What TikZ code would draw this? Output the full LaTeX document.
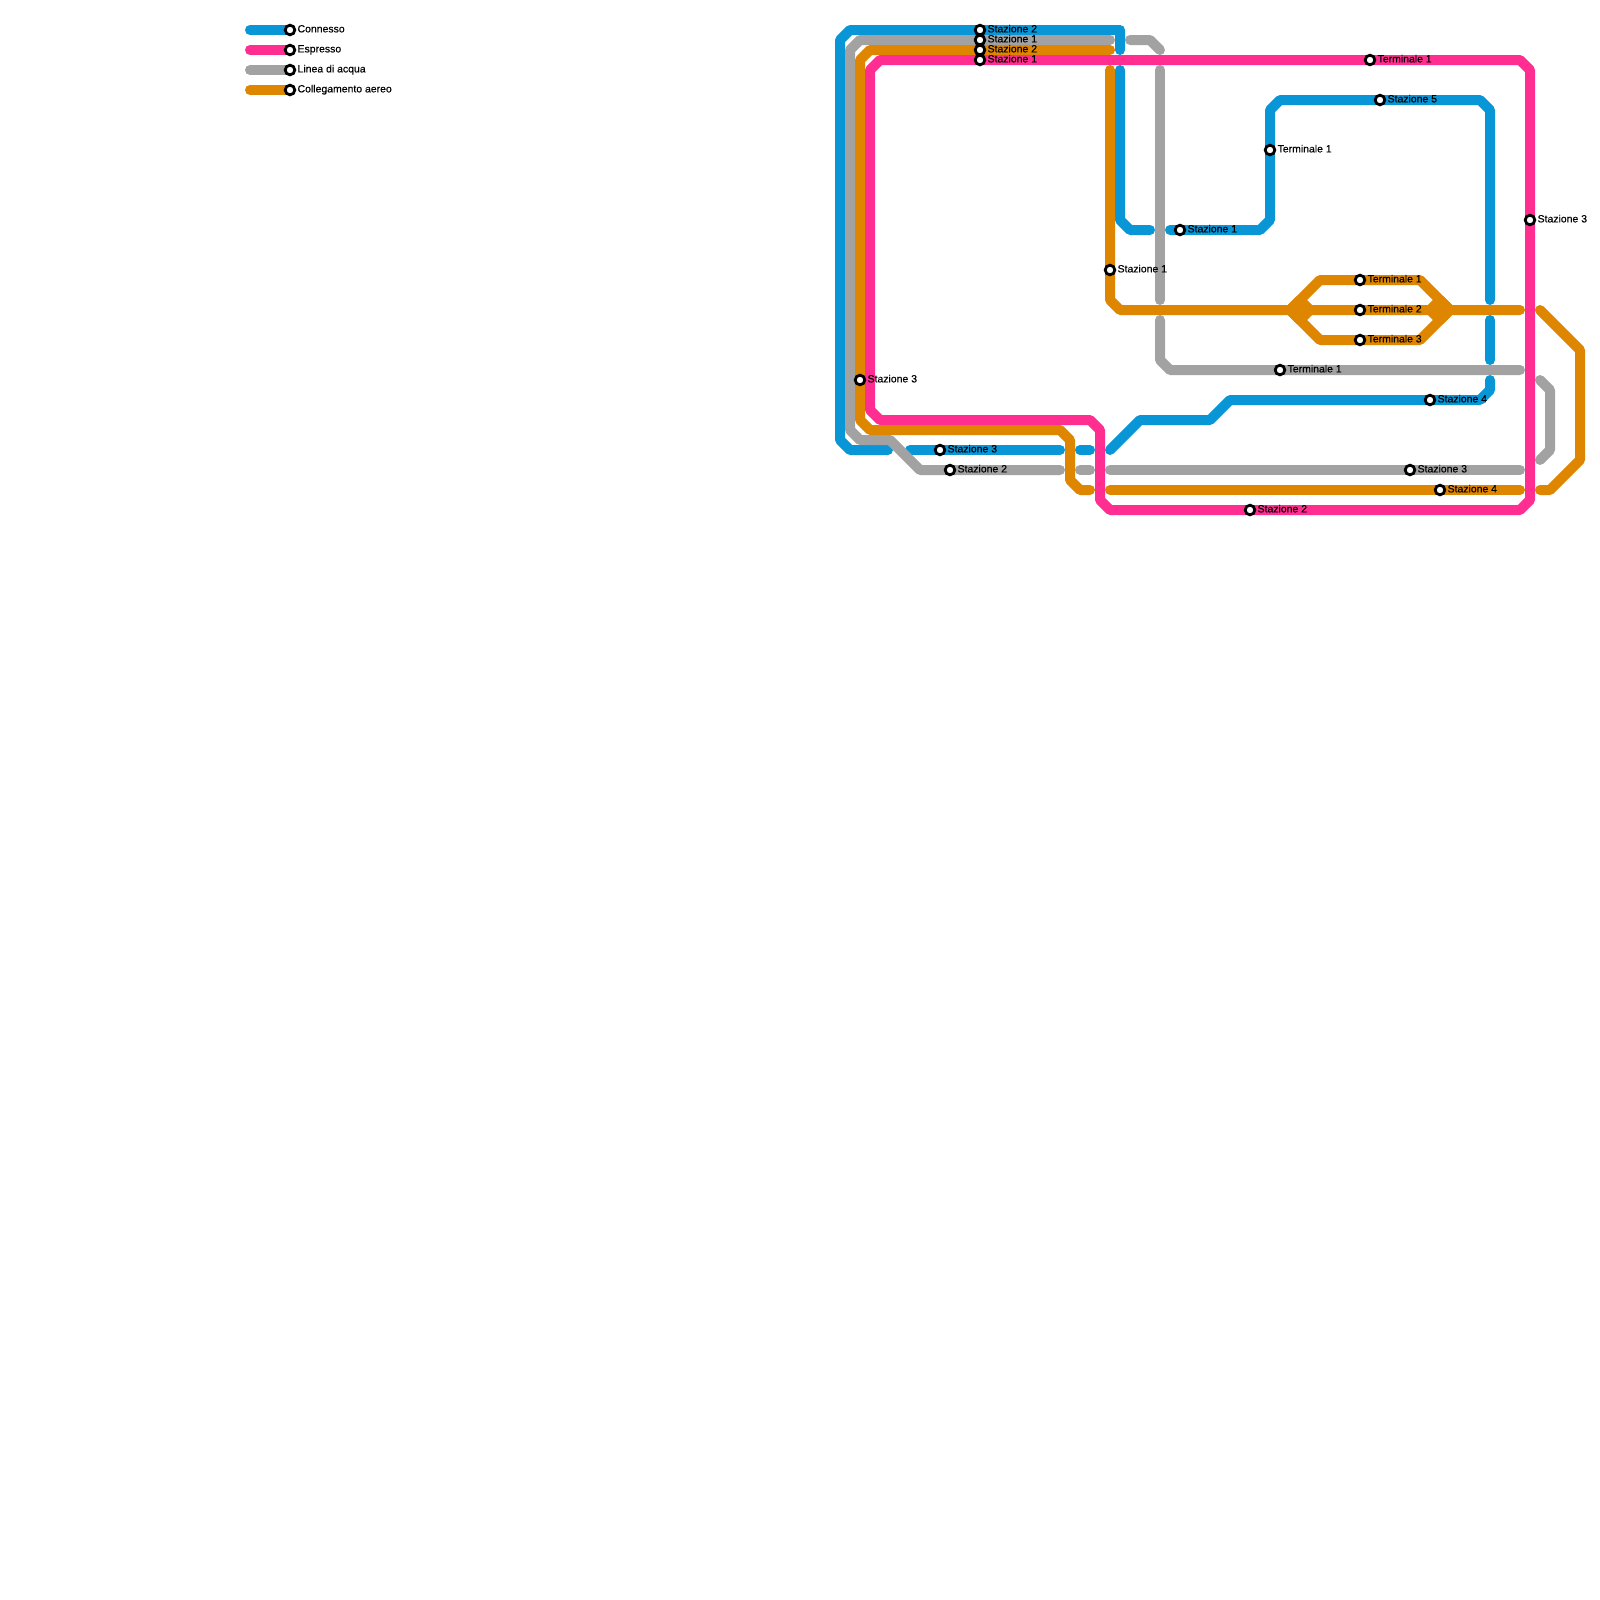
\documentclass[tikz,border=0pt]{standalone}
\usepackage{fontspec}
\newfontfamily\stopfont{Liberation Sans}[RawFeature={embolden=0.35}]
\definecolor{connessoblue}{HTML}{0896D7}
\definecolor{espressopink}{HTML}{FF2E90}
\definecolor{acquagray}{HTML}{A2A2A2}
\definecolor{aereoorange}{HTML}{DF8600}
\tikzset{
  route/.style={line width=10bp,line cap=round,line join=round},
  connesso/.style={route,draw=connessoblue},
  espresso/.style={route,draw=espressopink},
  acqua/.style={route,draw=acquagray},
  aereo/.style={route,draw=aereoorange},
  stop/.style={circle,draw=black,fill=white,line width=2.8bp,minimum size=9.6bp,inner sep=0pt},
  stoplabel/.style={text=black,font=\stopfont\fontsize{10.5}{12}\selectfont,anchor=base west,inner sep=0pt}
}
\begin{document}
\begin{tikzpicture}[x=10bp,y=-10bp]
  \path[use as bounding box] (0,0) rectangle (160,160);

  % Bend points, in steps of the map grid.
  \foreach \n/\x/\y in {
    b1/112/5,b2/112/3,b3/85/3,b4/84/4,b5/84/44,b6/85/45,b7/88.8/45,
    b8/91/45,b9/106/45,b10/108/45,b11/109/45,
    b12/111/45,b13/114/42,b14/121/42,b15/123/40,b16/148/40,b17/149/39,b18/149/38,
    b19/149/36,b20/149/32,
    b21/149/30,b22/149/11,b23/148/10,b24/128/10,b25/127/11,b26/127/22,b27/126/23,b28/117/23,
    b29/112/7,b30/112/22,b31/113/23,b32/115/23,
    b33/25/3,b34/29/3}
    \coordinate (\n) at (\x,\y);
  \foreach \n/\x/\y in {
    p1/87/7,p2/88/6,p3/152/6,p4/153/7,p5/153/50,p6/152/51,p7/111/51,p8/110/50,
    p9/110/43,p10/109/42,p11/88/42,p12/87/41,
    p13/25/5,p14/29/5}
    \coordinate (\n) at (\x,\y);
  \foreach \n/\x/\y in {
    g1/111/4,g2/86/4,g3/85/5,g4/85/43,g5/86/44,g6/89/44,g7/92/47,g8/106/47,
    g9/108/47,g10/109/47,g11/111/47,g12/152/47,
    g13/113/4,g14/115/4,g15/116/5,g16/116/7,g17/116/30,
    g18/116/32,g19/116/36,g20/117/37,g21/152/37,
    g22/154/38,g23/155/39,g24/155/45,g25/154/46,
    g26/25/7,g27/29/7}
    \coordinate (\n) at (\x,\y);
  \foreach \n/\x/\y in {
    o1/111/5,o2/87/5,o3/86/6,o4/86/42,o5/87/43,o6/106/43,o7/107/44,o8/107/48,o9/108/49,o10/109/49,
    o11/111/7,o12/111/30,o13/112/31,o14/152/31,
    o15/129/31,o16/132/28,o17/142/28,o18/145/31,o19/132/34,o20/142/34,
    o21/111/49,o22/152/49,
    o23/154/31,o24/158/35,o25/158/46,o26/155/49,o27/154/49,
    o28/25/9,o29/29/9,
    o30/130/30,o31/131/31,o32/130/32,o33/143/31,o34/144/30,o35/144/32}
    \coordinate (\n) at (\x,\y);

  % Connesso.
  \draw[connesso] (b1) -- (b2) -- (b3) -- (b4) -- (b5) -- (b6) -- (b7);
  \draw[connesso] (b8) -- (b9);
  \draw[connesso] (b10) -- (b11);
  \draw[connesso] (b12) -- (b13) -- (b14) -- (b15) -- (b16) -- (b17) -- (b18);
  \draw[connesso] (b19) -- (b20);
  \draw[connesso] (b21) -- (b22) -- (b23) -- (b24) -- (b25) -- (b26) -- (b27) -- (b28);
  \draw[connesso] (b29) -- (b30) -- (b31) -- (b32);
  \draw[connesso] (b33) -- (b34);

  % Linea di acqua.
  \draw[acqua] (g1) -- (g2) -- (g3) -- (g4) -- (g5) -- (g6) -- (g7) -- (g8);
  \draw[acqua] (g9) -- (g10);
  \draw[acqua] (g11) -- (g12);
  \draw[acqua] (g13) -- (g14) -- (g15);
  \draw[acqua] (g16) -- (g17);
  \draw[acqua] (g18) -- (g19) -- (g20) -- (g21);
  \draw[acqua] (g22) -- (g23) -- (g24) -- (g25);
  \draw[acqua] (g26) -- (g27);

  % Collegamento aereo.
  \draw[aereo] (o1) -- (o2) -- (o3) -- (o4) -- (o5) -- (o6) -- (o7) -- (o8) -- (o9) -- (o10);
  \draw[aereo] (o11) -- (o12) -- (o13) -- (o14);
  \draw[aereo] (o15) -- (o16) -- (o17) -- (o18) -- (o20) -- (o19) -- cycle;
  \draw[aereo] (o15) -- (o30) -- (o31) -- (o32) -- cycle;
  \draw[aereo] (o33) -- (o34) -- (o18) -- (o35) -- cycle;
  \draw[aereo] (o21) -- (o22);
  \draw[aereo] (o23) -- (o24) -- (o25) -- (o26) -- (o27);
  \draw[aereo] (o28) -- (o29);

  % Espresso.
  \draw[espresso] (p1) -- (p2) -- (p3) -- (p4) -- (p5) -- (p6) -- (p7) -- (p8) -- (p9) -- (p10) -- (p11) -- (p12) -- cycle;
  \draw[espresso] (p13) -- (p14);

  % Stops, each with its name to the right.
  \foreach \n/\x/\y/\t in {
    legc/29/3/Connesso,lege/29/5/Espresso,lega/29/7/Linea di acqua,legl/29/9/Collegamento aereo,
    sb2/98/3/Stazione 2,sg1/98/4/Stazione 1,so2/98/5/Stazione 2,sp1/98/6/Stazione 1,
    sp2/137/6/Terminale 1,sb5/138/10/Stazione 5,sb6/127/15/Terminale 1,sb1/118/23/Stazione 1,
    sp3/153/22/Stazione 3,so1/111/27/Stazione 1,so3/136/28/Terminale 1,so4/136/31/Terminale 2,
    so5/136/34/Terminale 3,sg2/128/37/Terminale 1,so6/86/38/Stazione 3,sb4/143/40/Stazione 4,
    sb3/94/45/Stazione 3,sg3/95/47/Stazione 2,sg4/141/47/Stazione 3,so7/144/49/Stazione 4,
    sp4/125/51/Stazione 2}
  {
    \node[stop] (\n) at (\x,\y) {};
    \node[stoplabel] (\n-name) at ([xshift=7.4bp,yshift=-2.4bp]\n.center) {\t};
  }
\end{tikzpicture}
\end{document}
